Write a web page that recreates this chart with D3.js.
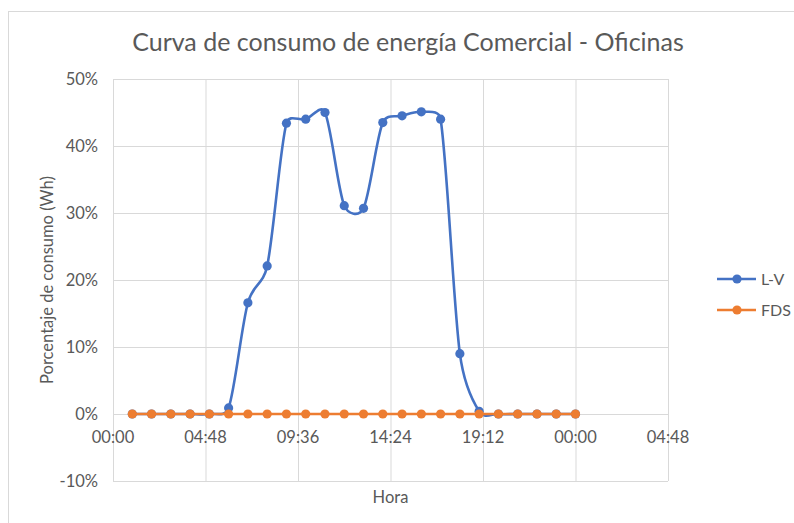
<!DOCTYPE html>
<html>
<head>
<meta charset="utf-8">
<script src="https://cdn.jsdelivr.net/npm/d3@7"></script>
<style>
  body { margin: 0; background: #fff; }
  text { font-family: Lato, "Open Sans", sans-serif; fill: #595959; }
</style>
</head>
<body>
<div id="chart"></div>
<script>
// hour of day for each point
const hours = [1, 2, 3, 4, 5, 6, 7, 8, 9, 10, 11, 12, 13, 14, 15, 16, 17, 18, 19, 20, 21, 22, 23, 24];
// L-V (lunes a viernes), fraction of consumption
const lv = [0, 0, 0, 0, 0, 0.009, 0.166, 0.221, 0.434, 0.440, 0.450, 0.311, 0.307, 0.435, 0.445, 0.451, 0.440, 0.090, 0.004, 0, 0, 0, 0, 0];
// FDS (fin de semana)
const fds = [0, 0, 0, 0, 0, 0, 0, 0, 0, 0, 0, 0, 0, 0, 0, 0, 0, 0, 0, 0, 0, 0, 0, 0];
const xTicks = [0, 4.8, 9.6, 14.4, 19.2, 24, 28.8];
const yTicks = [-0.1, 0, 0.1, 0.2, 0.3, 0.4, 0.5];
const seriesNames = ['L-V', 'FDS'];

// Excel-like smoothed line: bezier with 1/6 tangents, shortened near sharp turns
function smoothPath(pts) {
  const p = d3.path();
  const dist = (a, b) => Math.hypot(b[0] - a[0], b[1] - a[1]);
  p.moveTo(pts[0][0], pts[0][1]);
  for (let i = 0; i < pts.length - 1; i++) {
    const p0 = pts[Math.max(i - 1, 0)], p1 = pts[i], p2 = pts[i + 1], p3 = pts[Math.min(i + 2, pts.length - 1)];
    const d12 = dist(p1, p2), d02 = dist(p0, p2), d13 = dist(p1, p3);
    const f1 = d02 > 0 ? Math.min(1 / 6, d12 / (2 * d02)) : 0;
    const f2 = d13 > 0 ? Math.min(1 / 6, d12 / (2 * d13)) : 0;
    p.bezierCurveTo(
      p1[0] + f1 * (p2[0] - p0[0]), p1[1] + f1 * (p2[1] - p0[1]),
      p2[0] - f2 * (p3[0] - p1[0]), p2[1] - f2 * (p3[1] - p1[1]),
      p2[0], p2[1]);
  }
  return p.toString();
}

function drawChart() {
  const width = 794, height = 523;
  const plot = { left: 113, right: 668, top: 79, bottom: 481 };

  const svg = d3.select('#chart')
    .append('svg')
    .attr('width', width)
    .attr('height', height);

  // chart frame
  svg.append('rect')
    .attr('x', 8.5).attr('y', 11.5)
    .attr('width', 800).attr('height', 600)
    .attr('fill', 'none')
    .attr('stroke', '#d9d9d9');

  const x = d3.scaleLinear().domain([0, 28.8]).range([plot.left, plot.right]);
  const y = d3.scaleLinear().domain([-0.1, 0.5]).range([plot.bottom, plot.top]);

  const color = d3.scaleOrdinal().domain(seriesNames).range(['#4472c4', '#ed7d31']);

  // gridlines
  svg.append('g')
    .attr('transform', `translate(0,${plot.bottom})`)
    .call(d3.axisBottom(x).tickValues(xTicks).tickSize(-(plot.bottom - plot.top)).tickFormat(''))
    .call(g => g.select('.domain').remove())
    .selectAll('line').attr('stroke', '#d9d9d9');

  svg.append('g')
    .attr('transform', `translate(${plot.left},0)`)
    .call(d3.axisLeft(y).tickValues(yTicks).tickSize(-(plot.right - plot.left)).tickFormat(''))
    .call(g => g.select('.domain').remove())
    .selectAll('line').attr('stroke', '#d9d9d9');

  // y labels
  svg.append('g')
    .selectAll('text')
    .data(yTicks)
    .join('text')
    .attr('x', plot.left - 15)
    .attr('y', d => y(d))
    .attr('dy', '0.35em')
    .attr('text-anchor', 'end')
    .style('font-size', '16.5px')
    .text(d => Math.round(d * 100) + '%');

  // x labels (time of day)
  const fmtTime = h => {
    const mins = Math.round(h * 60) % (24 * 60);
    return d3.format('02')(Math.floor(mins / 60)) + ':' + d3.format('02')(mins % 60);
  };
  svg.append('g')
    .selectAll('text')
    .data(xTicks)
    .join('text')
    .attr('x', d => x(d))
    .attr('y', y(0) + 23)
    .attr('dy', '0.35em')
    .attr('text-anchor', 'middle')
    .style('font-size', '16.5px')
    .text(fmtTime);

  // series
  [[lv, 'L-V'], [fds, 'FDS']].forEach(([vals, name]) => {
    const g = svg.append('g');
    g.append('path')
      .attr('d', smoothPath(vals.map((v, i) => [x(hours[i]), y(v)])))
      .attr('fill', 'none')
      .attr('stroke', color(name))
      .attr('stroke-width', 2.6);
    g.selectAll('circle')
      .data(vals)
      .join('circle')
      .attr('cx', (d, i) => x(hours[i]))
      .attr('cy', d => y(d))
      .attr('r', 4.6)
      .attr('fill', color(name));
  });

  // title
  svg.append('text')
    .attr('x', 408)
    .attr('y', 42)
    .attr('dy', '0.35em')
    .attr('text-anchor', 'middle')
    .style('font-size', '25px')
    .text('Curva de consumo de energía Comercial - Oficinas');

  // axis titles
  svg.append('text')
    .attr('transform', `translate(47,${(plot.top + plot.bottom) / 2}) rotate(-90)`)
    .attr('dy', '0.35em')
    .attr('text-anchor', 'middle')
    .style('font-size', '16.5px')
    .text('Porcentaje de consumo (Wh)');

  svg.append('text')
    .attr('x', (plot.left + plot.right) / 2)
    .attr('y', 497)
    .attr('dy', '0.35em')
    .attr('text-anchor', 'middle')
    .style('font-size', '16.5px')
    .text('Hora');

  // legend
  const legend = svg.append('g').attr('transform', 'translate(717,279)');
  seriesNames.forEach((key, i) => {
    const g = legend.append('g').attr('transform', `translate(0,${i * 31})`);
    g.append('line')
      .attr('x1', 0).attr('x2', 39)
      .attr('stroke', color(key))
      .attr('stroke-width', 2.6);
    g.append('circle')
      .attr('cx', 20).attr('r', 4.6)
      .attr('fill', color(key));
    g.append('text')
      .attr('x', 44)
      .attr('dy', '0.35em')
      .style('font-size', '16px')
      .text(key);
  });
}

drawChart();
</script>
</body>
</html>
